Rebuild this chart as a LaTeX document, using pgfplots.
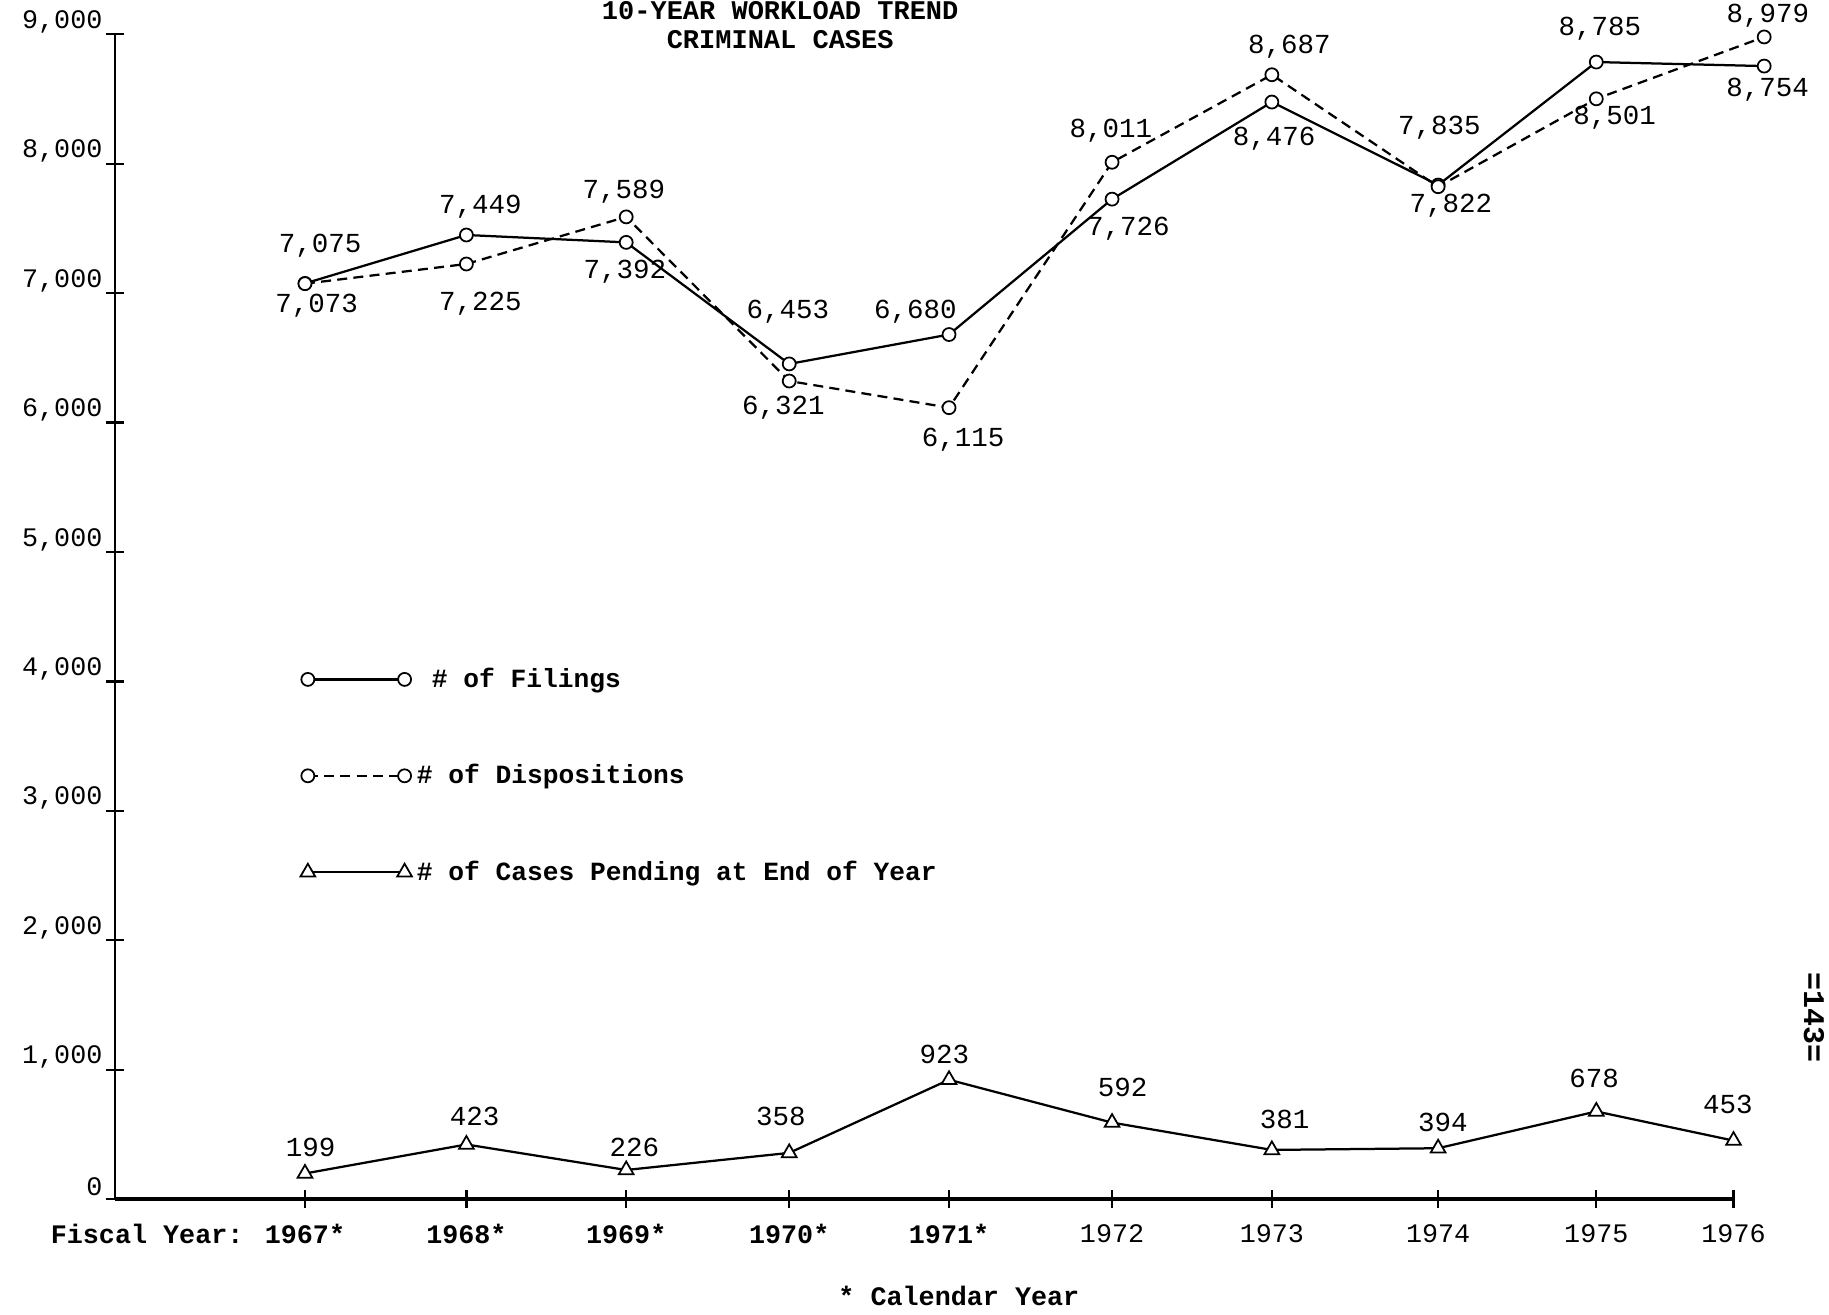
\documentclass[border=0pt]{standalone}
\usepackage{pgfplots}
\pgfplotsset{compat=1.18}
\usepackage{pgfplotstable}
\usepackage{fontspec}
\setmainfont{Liberation Mono}
\newfontfamily\tw{Liberation Mono}

% x: 1967=0 ... (positions as drawn on the sheet), dx/dy: label offsets in pt
\pgfplotstableread{
x     y     lab    dx     dy
0     7075  7,075  6.1    14.9
1     7449  7,449  5.6    11.4
1.99  7392  7,392  -0.5   -11.8
3     6453  6,453  -0.5   21
3.99  6680  6,680  -13.5  9.2
5     7726  7,726  6.5    -11.8
5.99  8476  8,476  0.9    -14.7
7.02  7835  7,835  0.5    23.1
8     8785  8,785  1.4    13.5
9.04  8754  8,754  1.4    -9.5
}\filings

\pgfplotstableread{
x     y     lab    dx     dy
0     7073  7,073  4.7    -8.8
1     7225  7,225  5.6    -15.7
1.99  7589  7,589  -0.9   10
3     6321  6,321  -2.3   -10.5
3.99  6115  6,115  5.6    -12.8
5     8011  8,011  -0.5   12.6
5.99  8687  8,687  7      11.2
7.02  7822  7,822  5.1    -7.5
8     8501  8,501  7.3    -7.5
9.04  8979  8,979  1.5    8.5
}\dispositions

\pgfplotstableread{
x     y    lab  dx    dy
0     199  199  2.3   10.3
1     423  423  3.3   11.2
1.99  226  226  3.3   8.9
3     358  358  -3.3  14.5
3.99  923  923  -1.9  10.1
5     592  592  4.2   14
5.99  381  381  5.1   12
7.02  394  394  1.9   10.4
8     678  678  -0.9  13.4
8.85  453  453  -2.3  14.5
}\pending

\begin{document}
\begin{tikzpicture}
\begin{axis}[
    scale only axis,
    width=647.4pt, height=466pt,
    at={(0,0)}, anchor=south west,
    xmin=-1.177, xmax=8.85,
    ymin=0, ymax=9000,
    clip=false,
    axis x line*=bottom, axis y line*=left,
    x axis line style={-, line width=1.4pt},
    y axis line style={-, line width=1.1pt},
    tick align=center,
    major tick length=7pt,
    tick style={black, line width=0.9pt},
    xtick={0,1,1.99,3,3.99,5,5.99,7.02,8,8.85},
    xticklabels={{\bfseries\llap{Fiscal Year: }1967*},{\bfseries 1968*},{\bfseries 1969*},{\bfseries 1970*},{\bfseries 1971*},1972,1973,1974,1975,1976},
    ytick={0,1000,2000,3000,4000,5000,6000,7000,8000,9000},
    yticklabels={0,{1,000},{2,000},{3,000},{4,000},{5,000},{6,000},{7,000},{8,000},{9,000}},
    ticklabel style={font=\tw\fontsize{10.7}{12}\selectfont},
    xticklabel style={anchor=center, yshift=-10.2pt},
    yticklabel style={anchor=east, xshift=2pt, yshift=5pt},
    point meta=explicit symbolic,
    nodes near coords,
    visualization depends on={\thisrow{dx} \as \dx},
    visualization depends on={\thisrow{dy} \as \dy},
    every node near coord/.append style={anchor=center, xshift=\dx pt, yshift=\dy pt,
        inner sep=0pt, font=\tw\fontsize{11}{12}\selectfont},
    legend image code/.code={\draw[#1] plot coordinates {(0pt,0pt) (38.7pt,0pt)};},
    legend cell align=left,
    legend style={at={(axis cs:0,3271)}, anchor=west, xshift=-5pt,
        draw=none, fill=none, row sep=25.3pt,
        font=\tw\bfseries\fontsize{10.5}{12}\selectfont},
]

\addplot[black, line width=0.9pt, mark=*, mark size=2.6pt,
    mark options={solid, fill=white, line width=0.7pt}]
    table[x=x, y=y, meta=lab] {\filings};
\addlegendentry{\hspace{6pt}\# of Filings}

\addplot[black, line width=0.9pt, dash pattern=on 4pt off 2.5pt, mark=*, mark size=2.6pt,
    mark options={solid, fill=white, line width=0.7pt}]
    table[x=x, y=y, meta=lab] {\dispositions};
\addlegendentry{\# of Dispositions}

\addplot[black, line width=0.9pt, mark=triangle*, mark size=3.4pt,
    mark options={solid, fill=white, line width=0.7pt}]
    table[x=x, y=y, meta=lab] {\pending};
\addlegendentry{\# of Cases Pending at End of Year}

\node[font=\tw\bfseries\fontsize{10.8}{12}\selectfont, yshift=-2pt] at (rel axis cs:0.411,1) {CRIMINAL CASES};
\node[font=\tw\bfseries\fontsize{10.8}{12}\selectfont, yshift=9.3pt] at (rel axis cs:0.411,1) {10-YEAR WORKLOAD TREND};
\node[font=\tw\bfseries\fontsize{10.7}{12}\selectfont, yshift=-38.7pt] at (rel axis cs:0.5214,0) {* Calendar Year};
\node[font=\tw\bfseries\fontsize{12}{14}\selectfont, rotate=-90] at (rel axis cs:1.0497,0.156) {=143=};
\end{axis}
\pgfresetboundingbox
\useasboundingbox ([shift={(-46pt,-46.3pt)}]current axis.south west) rectangle ([shift={(38.2pt,13.7pt)}]current axis.north east);
\end{tikzpicture}
\end{document}
